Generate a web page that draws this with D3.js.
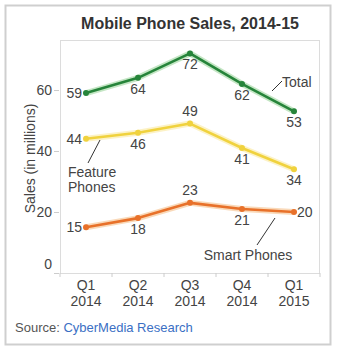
<!DOCTYPE html>
<html>
<head>
<meta charset="utf-8">
<script src="https://cdn.jsdelivr.net/npm/d3@7"></script>
<style>
  html, body { margin: 0; padding: 0; background: #fff; }
  text { font-family: Arial, "Liberation Sans", sans-serif; }
</style>
</head>
<body>
<svg id="chart" width="337" height="350"></svg>
<script>
// quarters on the x axis
var quarters = ['Q1 2014', 'Q2 2014', 'Q3 2014', 'Q4 2014', 'Q1 2015'];
var yTicks = [0, 20, 40, 60];

// sales in millions
var totalSales = [59, 64, 72, 62, 53];
var featureSales = [44, 46, 49, 41, 34];
var smartSales = [15, 18, 23, 21, 20];

var WIDTH = 337, HEIGHT = 350;
var PLOT = { left: 60, right: 320, top: 40, bottom: 273 };
var TEXT = '#444';

var series = [
    { name: 'Total', values: totalSales, color: '#26843a', halo: '#b5e0b5',
      // where each value label sits relative to its point: l/b/a/r
      pos: ['l', 'b', 'b', 'b', 'b'] },
    { name: 'Feature Phones', values: featureSales, color: '#f0d23e', halo: '#fbefb8',
      pos: ['l', 'b', 'a', 'b', 'b'] },
    { name: 'Smart Phones', values: smartSales, color: '#e8712a', halo: '#f8cfa8',
      pos: ['l', 'b', 'a', 'b', 'r'] }
];

var svg = d3.select('#chart');

// outer card
svg.append('rect')
    .attr('x', 5.5).attr('y', 5.5)
    .attr('width', 325).attr('height', 339)
    .attr('fill', '#fff')
    .attr('stroke', '#cfcfcf')
    .attr('stroke-width', 2);

var x = d3.scalePoint()
    .domain(quarters)
    .range([PLOT.left, PLOT.right])
    .padding(0.5);

var y = d3.scaleLinear()
    .domain([0, 76.4])
    .range([PLOT.bottom, PLOT.top]);

// plot frame
svg.append('rect')
    .attr('x', PLOT.left + 0.5).attr('y', PLOT.top + 0.5)
    .attr('width', PLOT.right - PLOT.left - 1)
    .attr('height', PLOT.bottom - PLOT.top)
    .attr('fill', 'none')
    .attr('stroke', '#dcdcdc');

// title
svg.append('text')
    .attr('x', (PLOT.left + PLOT.right) / 2)
    .attr('y', 29)
    .attr('text-anchor', 'middle')
    .style('font-size', '16px')
    .style('font-weight', 'bold')
    .attr('fill', '#333')
    .text('Mobile Phone Sales, 2014-15');

// y axis
var yAxis = svg.append('g')
    .attr('transform', `translate(${PLOT.left - 1},0)`)
    .call(d3.axisLeft(y).tickValues(yTicks).tickSize(5).tickPadding(2));
yAxis.select('.domain').remove();
yAxis.selectAll('line').attr('stroke', '#ccc');
yAxis.selectAll('text')
    .style('font-size', '14px')
    .attr('fill', TEXT)
    .attr('dy', (d) => d === 0 ? '-0.3em' : '0.32em');

svg.append('text')
    .attr('transform', `translate(35,${(PLOT.top + PLOT.bottom) / 2 + 2})rotate(-90)`)
    .attr('text-anchor', 'middle')
    .style('font-size', '14px')
    .attr('fill', TEXT)
    .text('Sales (in millions)');

// x axis: ticks sit between the quarters
var step = x.step();
var xAxis = svg.append('g').attr('transform', `translate(0,${PLOT.bottom})`);
xAxis.selectAll('line')
    .data(d3.range(quarters.length + 1))
    .enter()
    .append('line')
    .attr('x1', (i) => x(quarters[0]) - step / 2 + i * step)
    .attr('x2', (i) => x(quarters[0]) - step / 2 + i * step)
    .attr('y1', 0).attr('y2', 4)
    .attr('stroke', '#ccc');

var xLabels = xAxis.selectAll('text')
    .data(quarters)
    .enter()
    .append('text')
    .attr('x', (d) => x(d))
    .attr('text-anchor', 'middle')
    .style('font-size', '14px')
    .attr('fill', TEXT);
xLabels.append('tspan').attr('x', (d) => x(d)).attr('y', 17).text((d) => d.split(' ')[0]);
xLabels.append('tspan').attr('x', (d) => x(d)).attr('y', 33).text((d) => d.split(' ')[1]);

// lines
var line = d3.line()
    .x((d, i) => x(quarters[i]))
    .y((d) => y(d));

series.forEach((s) => {
    var g = svg.append('g');
    g.append('path')
        .attr('d', line(s.values))
        .attr('fill', 'none')
        .attr('stroke', s.halo)
        .attr('stroke-width', 6)
        .attr('stroke-linejoin', 'round')
        .attr('opacity', 0.8);
    g.append('path')
        .attr('d', line(s.values))
        .attr('fill', 'none')
        .attr('stroke', s.color)
        .attr('stroke-width', 2.6)
        .attr('stroke-linejoin', 'round');
    g.selectAll('circle')
        .data(s.values)
        .enter()
        .append('circle')
        .attr('cx', (d, i) => x(quarters[i]))
        .attr('cy', (d) => y(d))
        .attr('r', 3)
        .attr('fill', s.color);

    // value labels
    g.selectAll('text.value')
        .data(s.values)
        .enter()
        .append('text')
        .attr('class', 'value')
        .style('font-size', '14px')
        .attr('fill', TEXT)
        .attr('x', (d, i) => {
            var p = s.pos[i], cx = x(quarters[i]);
            if (p === 'l') return cx - 4;
            if (p === 'r') return cx + 3;
            return cx;
        })
        .attr('y', (d, i) => {
            var p = s.pos[i], cy = y(d);
            if (p === 'b') return cy + 16;
            if (p === 'a') return cy - 8;
            return cy + 5;
        })
        .attr('text-anchor', (d, i) => s.pos[i] === 'l' ? 'end' : s.pos[i] === 'r' ? 'start' : 'middle')
        .text((d) => d);
});

// series name callouts
var callouts = [
    { lines: ['Total'], x: 282, y: 87, anchor: 'start', from: [272, 91], to: [282, 81] },
    { lines: ['Feature', 'Phones'], x: 68, y: 177, anchor: 'start', from: [100, 140], to: [88, 163] },
    { lines: ['Smart Phones'], x: 248, y: 260, anchor: 'middle', from: [275, 218], to: [257, 245] }
];
callouts.forEach((c) => {
    svg.append('line')
        .attr('x1', c.from[0]).attr('y1', c.from[1])
        .attr('x2', c.to[0]).attr('y2', c.to[1])
        .attr('stroke', '#333')
        .attr('stroke-width', 1);
    var t = svg.append('text')
        .attr('text-anchor', c.anchor)
        .style('font-size', '14px')
        .attr('fill', TEXT);
    c.lines.forEach((l, i) => {
        t.append('tspan').attr('x', c.x).attr('y', c.y + i * 15).text(l);
    });
});

// source line
var src = svg.append('text')
    .attr('x', 15)
    .attr('y', 332)
    .style('font-size', '13px')
    .attr('fill', '#555');
src.append('tspan').text('Source: ');
src.append('tspan').attr('fill', '#3b6fc4').text('CyberMedia Research');
</script>
</body>
</html>
